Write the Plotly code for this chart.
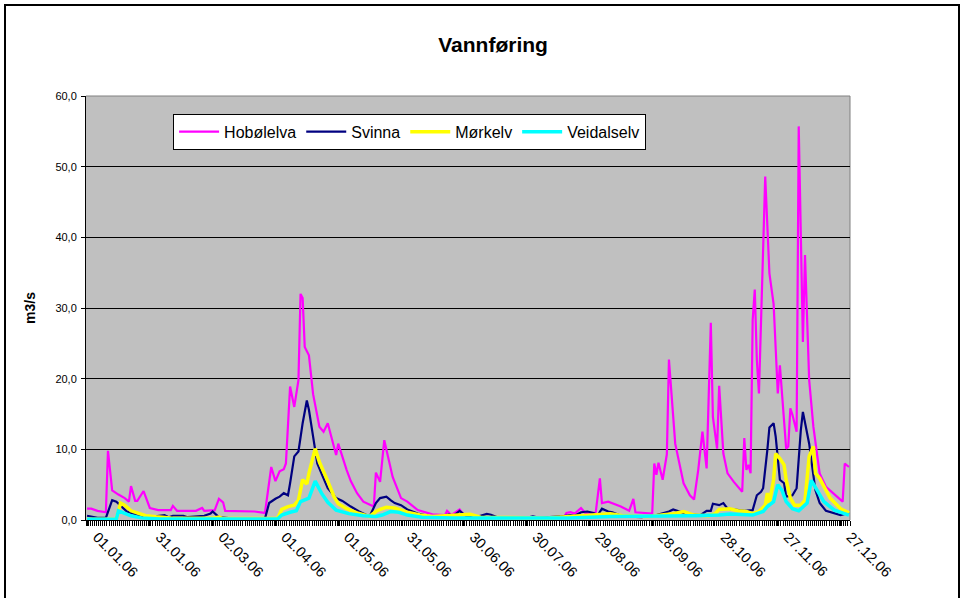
import pandas as pd
import plotly.graph_objects as go

START = "2006-01-01"

# day offsets from 01.01.06 and flow (m3/s)
hob_days = [0, 2, 5, 9, 10, 12, 15, 18, 20, 21, 23, 24, 27, 30, 34, 40, 41, 43, 50, 52, 55, 56, 61, 63, 65, 66,
            80, 85, 88, 90, 92, 94, 95, 97, 99, 101, 102, 103, 104, 106, 108, 111, 113, 115, 119, 120, 124, 126,
            129, 132, 137, 138, 140, 142, 146, 150, 153, 158, 165, 171, 172, 174, 178, 180, 185, 200, 215, 228,
            229, 231, 233, 236, 238, 243, 245, 246, 249, 255, 259, 261, 262, 270, 271, 272, 273, 275, 277, 278,
            281, 285, 288, 290, 292, 294, 296, 298, 299, 301, 302, 304, 306, 309, 313, 314, 315, 316, 317, 318,
            319, 320, 321, 324, 325, 326, 328, 329, 330, 331, 333, 334, 335, 336, 337, 339, 340, 342, 343, 345,
            347, 350, 353, 358, 361, 362, 364]
hob_vals = [1.6, 1.6, 1.3, 1.1, 9.8, 4.2, 3.6, 3.1, 2.6, 4.8, 2.7, 2.7, 4.1, 1.7, 1.4, 1.4, 2.0, 1.3, 1.3, 1.3,
            1.7, 1.3, 1.4, 3.0, 2.5, 1.3, 1.2, 1.0, 7.5, 5.5, 6.9, 7.2, 8.0, 18.9, 16.0, 19.8, 32.0, 31.4, 24.5,
            23.3, 17.8, 13.2, 12.5, 13.7, 9.2, 10.8, 7.1, 5.5, 3.8, 2.6, 1.9, 6.7, 5.4, 11.3, 6.1, 3.1, 2.6, 1.4,
            0.8, 0.7, 1.3, 0.7, 1.5, 0.7, 0.4, 0.3, 0.3, 0.4, 1.0, 1.1, 0.9, 1.7, 1.0, 1.0, 5.9, 2.4, 2.6, 1.9,
            1.3, 3.0, 1.1, 0.9, 8.0, 6.4, 8.1, 5.7, 9.3, 22.7, 10.8, 5.2, 3.5, 2.9, 7.1, 12.5, 7.3, 27.9, 14.6,
            10.1, 19.0, 9.4, 6.6, 5.4, 4.0, 11.6, 7.1, 7.8, 6.6, 28.3, 32.6, 22.6, 17.9, 48.6, 42.0, 34.9, 30.6,
            25.0, 17.9, 21.9, 13.2, 10.1, 10.4, 15.8, 14.9, 12.5, 55.7, 25.2, 37.5, 19.8, 13.2, 6.6, 4.7, 3.3,
            2.6, 8.0, 7.5]

svi_days = [0, 5, 9, 12, 14, 17, 19, 24, 30, 37, 39, 41, 46, 48, 56, 59, 60, 63, 70, 85, 87, 90, 92, 94, 96, 97,
            99, 101, 103, 105, 106, 108, 110, 113, 115, 119, 122, 126, 130, 135, 138, 140, 143, 145, 147, 150,
            153, 158, 163, 168, 173, 175, 178, 181, 186, 191, 193, 196, 210, 213, 216, 226, 231, 233, 236, 239,
            242, 244, 246, 249, 251, 256, 265, 272, 275, 278, 280, 283, 287, 293, 296, 298, 299, 302, 304, 306,
            310, 314, 318, 320, 322, 323, 325, 326, 328, 329, 331, 333, 334, 337, 339, 341, 342, 344, 345, 346,
            348, 350, 353, 360, 364]
svi_vals = [0.6, 0.3, 0.3, 2.8, 2.6, 1.8, 1.2, 0.7, 0.4, 0.7, 0.4, 0.6, 0.6, 0.4, 0.6, 0.9, 1.2, 0.4, 0.2, 0.2,
            2.4, 3.0, 3.3, 3.8, 3.5, 5.2, 9.0, 9.7, 13.7, 16.9, 15.6, 11.8, 8.0, 5.9, 4.5, 3.1, 2.7, 1.9, 1.2,
            0.5, 2.4, 3.1, 3.3, 2.8, 2.4, 2.1, 1.5, 0.9, 0.6, 0.5, 0.8, 0.6, 1.3, 0.6, 0.4, 0.85, 0.75, 0.4, 0.3,
            0.5, 0.3, 0.5, 0.7, 0.6, 1.1, 1.2, 1.0, 0.7, 1.6, 1.2, 1.1, 0.5, 0.4, 0.7, 0.9, 1.2, 1.5, 1.2, 0.8,
            0.7, 1.3, 1.3, 2.3, 2.1, 2.4, 1.6, 1.4, 1.3, 1.4, 3.5, 4.0, 4.5, 9.9, 13.1, 13.7, 11.8, 5.7, 5.2, 3.3,
            3.5, 4.5, 12.7, 15.3, 12.0, 10.8, 8.5, 4.2, 2.4, 1.3, 0.7, 1.0]

mor_days = [0, 14, 16, 18, 21, 25, 28, 33, 40, 60, 63, 65, 91, 93, 96, 99, 101, 103, 105, 106, 109, 111, 114,
            115, 118, 120, 124, 129, 135, 138, 140, 143, 147, 150, 153, 159, 165, 183, 188, 220, 235, 245, 250,
            256, 268, 280, 285, 290, 297, 300, 302, 307, 311, 315, 318, 321, 324, 325, 326, 328, 329, 331, 333,
            334, 336, 338, 341, 343, 345, 347, 348, 350, 353, 355, 360, 364]
mor_vals = [0.1, 0.1, 2.4, 2.1, 1.3, 0.85, 0.6, 0.45, 0.3, 0.25, 0.4, 0.2, 0.2, 1.5, 1.9, 2.1, 2.8, 5.7, 5.1,
            6.6, 10.1, 8.2, 6.3, 5.5, 3.3, 2.3, 1.6, 1.0, 0.5, 1.2, 1.5, 1.8, 1.7, 1.4, 1.1, 0.7, 0.5, 0.8, 0.4,
            0.3, 0.6, 0.7, 0.9, 0.6, 0.5, 0.9, 1.2, 0.7, 0.6, 0.9, 1.5, 1.6, 1.3, 1.2, 0.9, 1.2, 2.1, 3.8, 2.4,
            5.7, 9.4, 8.7, 7.8, 5.7, 3.1, 2.1, 2.1, 2.8, 9.0, 10.4, 6.6, 5.9, 4.2, 3.1, 1.6, 1.0]

vei_days = [0, 14, 15, 18, 21, 26, 35, 91, 93, 97, 100, 102, 104, 106, 109, 112, 115, 119, 125, 132, 138, 141,
            145, 149, 153, 160, 175, 230, 250, 280, 290, 302, 307, 318, 323, 325, 328, 330, 332, 334, 337, 340,
            344, 346, 349, 352, 357, 364]
vei_vals = [0.1, 0.1, 1.3, 1.0, 0.6, 0.3, 0.15, 0.15, 0.7, 1.1, 1.3, 2.6, 2.8, 3.1, 5.5, 3.8, 2.5, 1.4, 0.9, 0.6,
            0.5, 0.7, 1.2, 1.1, 0.7, 0.4, 0.3, 0.3, 0.5, 0.5, 0.6, 0.7, 0.85, 0.7, 1.2, 1.9, 2.6, 5.0, 4.2, 2.6,
            1.6, 1.3, 2.4, 5.6, 4.0, 2.6, 1.4, 0.7]

y_ticks = [0, 10, 20, 30, 40, 50, 60]
y_labels = ["0,0", "10,0", "20,0", "30,0", "40,0", "50,0", "60,0"]


def to_dates(days):
    return pd.Timestamp(START) + pd.to_timedelta(days, unit="D")


series = [
    ("Hobølelva", hob_days, hob_vals, "#FF00FF", 2.2),
    ("Svinna", svi_days, svi_vals, "#000080", 2.2),
    ("Mørkelv", mor_days, mor_vals, "#FFFF00", 3.5),
    ("Veidalselv", vei_days, vei_vals, "#00FFFF", 3.5),
]

fig = go.Figure()
for name, days, vals, color, width in series:
    fig.add_trace(go.Scatter(
        x=to_dates(days),
        y=vals,
        name=name,
        mode="lines",
        line=dict(color=color, width=width)
    ))

fig.update_layout(
    width=963,
    height=598,
    margin=dict(l=86, r=113, t=96, b=78),
    paper_bgcolor="white",
    plot_bgcolor="#C0C0C0",
    font=dict(family="Liberation Sans, Arial", color="black", size=12),
    title=dict(text="<b>Vannføring</b>", x=0.512, xref="container", xanchor="center",
               y=0.925, yref="container", yanchor="middle", font=dict(size=21)),
    showlegend=True,
    legend=dict(
        orientation="h", x=0.114, y=0.958, xanchor="left", yanchor="top",
        bgcolor="white", bordercolor="black", borderwidth=1,
        font=dict(size=16), itemwidth=40
    ),
    xaxis=dict(
        type="date", automargin=False,
        range=["2005-12-31 12:00", "2006-12-31 12:00"],
        tick0=START, dtick=30 * 86400000, tickformat="%d.%m.%y",
        tickangle=45, tickfont=dict(size=14.5), ticklabelshift=10, ticklabelstandoff=-3,
        showgrid=False, zeroline=False,
        showline=True, linecolor="black", linewidth=1,
        ticks="outside", ticklen=5, tickcolor="black",
        minor=dict(dtick=86400000, tick0="2005-12-31 12:00", ticks="outside", ticklen=5,
                   tickcolor="black", showgrid=False)
    ),
    yaxis=dict(
        range=[0, 60], tickvals=y_ticks, ticktext=y_labels, automargin=False,
        tickfont=dict(size=11), ticklabelstandoff=2,
        showgrid=True, gridcolor="black", gridwidth=1, zeroline=False,
        showline=True, linecolor="black", linewidth=1,
        ticks="outside", ticklen=4, tickcolor="black",
        title=dict(text="<b>m3/s</b>", font=dict(size=14), standoff=16)
    ),
    shapes=[
        dict(type="line", xref="paper", yref="paper", x0=0, x1=1, y0=1, y1=1,
             line=dict(color="#808080", width=1), layer="below"),
        dict(type="line", xref="paper", yref="paper", x0=1, x1=1, y0=0, y1=1,
             line=dict(color="#808080", width=1), layer="below"),
        dict(type="rect", xref="paper", yref="paper",
             x0=(5 - 86) / 764, x1=(959 - 86) / 764, y0=(520 - 5) / 424, y1=(520 - 700) / 424,
             line=dict(color="black", width=2), fillcolor="rgba(0,0,0,0)"),
    ]
)

fig.write_html("out.html", config={"displayModeBar": False},
               post_script="document.body.style.margin='0';")
